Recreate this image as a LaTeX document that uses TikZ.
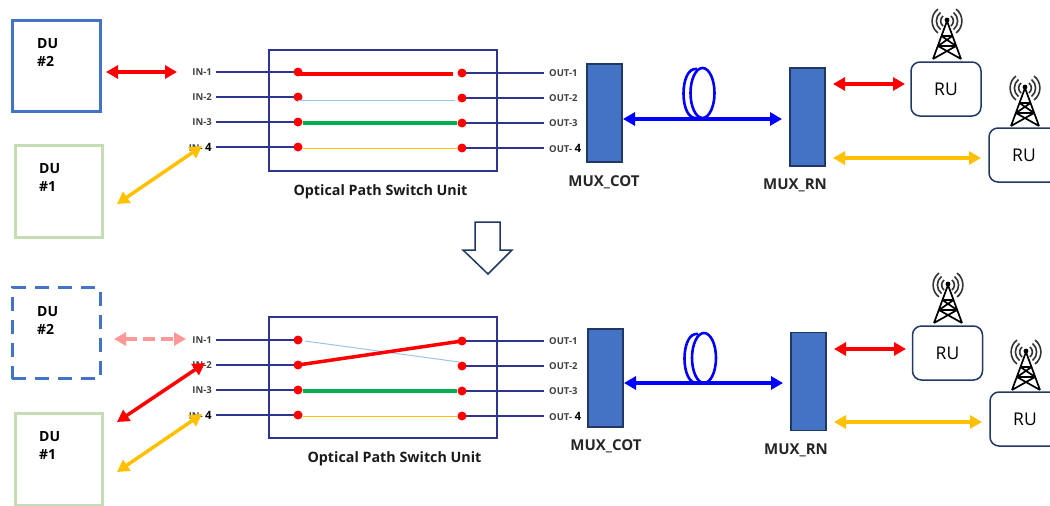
\documentclass[tikz,border=0pt]{standalone}
\usepackage{fontspec}
\setmainfont{Open Sans}
\usetikzlibrary{arrows.meta,backgrounds}
\definecolor{navy}{HTML}{2F3490}
\definecolor{duBlue}{HTML}{4472C4}
\definecolor{duGreen}{HTML}{C5DDB5}
\definecolor{muxEdge}{HTML}{1F3864}
\definecolor{amber}{HTML}{FFC000}
\definecolor{okGreen}{HTML}{00B050}
\definecolor{paleBlue}{HTML}{9DC3E6}
\definecolor{pink}{HTML}{FF9999}
\definecolor{labelGray}{HTML}{404040}
\newcommand{\bigfour}{{\color{black}\fontsize{11.5}{12}\selectfont 4}}
\tikzset{
  x=1pt,y=-1pt,
  dubox/.style={draw,line width=3pt,inner sep=0pt,minimum width=88pt,minimum height=91pt},
  dutext/.style={anchor=north west,inner sep=0pt,align=left,font=\fontsize{14}{18}\selectfont\bfseries},
  portin/.style={anchor=east,inner sep=0pt,text=labelGray,font=\fontsize{9.5}{12}\selectfont\bfseries},
  portout/.style={anchor=west,inner sep=0pt,text=labelGray,font=\fontsize{9.5}{12}\selectfont\bfseries},
  swunit/.style={draw=navy,line width=2pt,inner sep=0pt,minimum width=228pt,minimum height=121pt},
  dot/.style={circle,fill=red,inner sep=0pt,minimum size=9pt},
  feed/.style={draw=navy,line width=2.2pt},
  capt/.style={inner sep=0pt,text=black!90,font=\fontsize{14.3}{16}\selectfont\bfseries},
  muxcapt/.style={inner sep=0pt,text=black!85,font=\fontsize{15}{16}\selectfont\bfseries},
  mux/.style={draw=muxEdge,fill=duBlue,line width=1.5pt,inner sep=0pt,minimum width=35pt,minimum height=98pt},
  rubox/.style={draw=muxEdge,line width=1.5pt,rounded corners=9pt,inner sep=0pt,minimum width=70pt,minimum height=54pt,font=\fontsize{17.5}{20}\selectfont},
  biarrow/.style={{Triangle[length=12pt,width=13pt]}-{Triangle[length=12pt,width=13pt]},line width=3.5pt},
  coil/.style={draw=blue,line width=2.6pt},
  pics/mast/.style={code={
    \draw[line width=1.7pt,line join=round] (-14,38) -- (0,0) -- (14,38)
      (-5.5,15) -- (5.5,15) (-9,25) -- (9,25) (-14,38) -- (9,25) (14,38) -- (-9,25)
      (-5.5,15) -- (9,25) (5.5,15) -- (-9,25);
    \fill (0,-1) circle (2.4pt);
    \foreach \r/\h in {6/5,10/8.5,14/12}{
      \draw[line width=1.6pt,black!80] (-\r*0.65,-\h) .. controls (-\r*1.2,-\h*0.5) and (-\r*1.2,\h*0.5) .. (-\r*0.65,\h);
      \draw[line width=1.6pt,black!80] (\r*0.65,-\h) .. controls (\r*1.2,-\h*0.5) and (\r*1.2,\h*0.5) .. (\r*0.65,\h);
    }
  }}
}
\begin{document}
\begin{tikzpicture}
\useasboundingbox (0,0) rectangle (1050,506);
% ---------- top ----------
\node[dubox,draw=duBlue] (du2) at (56,65.5) {};
\node[dubox,draw=duGreen,minimum width=87pt,minimum height=92pt] (du1) at (58.5,191) {};
\node[dutext] (du2t) at (37,38.5) {DU\\\#2};
\node[dutext] (du1t) at (39,163.5) {DU\\\#1};
\node[swunit] (sw) at (383,110) {};
\foreach \n/\lab/\y in {1/IN-1/72,2/IN-2/97,3/IN-3/122,4/IN- \bigfour/147}{
  \node[portin] (i\n) at (212,\y) {\lab};
  \node[dot] (a\n) at (298,\y) {};
}
\foreach \n/\lab/\y in {1/OUT-1/73,2/OUT-2/98,3/OUT-3/123,4/OUT- \bigfour/148}{
  \node[dot] (b\n) at (462,\y) {};
  \node[portout] (o\n) at (549,\y) {\lab};
}
\begin{scope}[on background layer]
  \foreach \n in {1,2,3,4}{
    \draw[feed] (i\n.east)++(4,0) -- (a\n.center);
    \draw[feed] (b\n.center) -- ([xshift=-5pt]o\n.west);
  }
\end{scope}
\coordinate (c1) at ([xshift=-9pt,yshift=-1pt]b1.center);
\coordinate (c2) at ([xshift=-7pt,yshift=-2pt]b2.center);
\draw[red,line width=3.5pt] (a1.center |- c1) -- (c1);
\draw[paleBlue,line width=1pt] (a2.center |- c2) -- (c2);
\draw[okGreen,line width=3.5pt] (a3.east |- b3.center) -- (b3.west);
\draw[amber,line width=1pt] (a4.east |- b4.center) -- (b4.west);
\node[capt] (swt) at (380.5,191.5) {Optical Path Switch Unit};
\node[mux] (mc) at (604.5,113) {};
\node[mux] (mr) at (807.5,117) {};
\node[muxcapt] (mct) at (604,182) {MUX\_COT};
\node[muxcapt] (mrt) at (795,185) {MUX\_RN};
\node[rubox] (ru1) at (946,89) {RU};
\node[rubox] (ru2) at (1024,155) {RU};
\pic at (947,21) {mast};
\pic at (1025,88) {mast};
\coordinate (r1a) at (106,72); \coordinate (r1b) at (177,72);
\draw[biarrow,red] (r1a) -- (r1b);
\coordinate (y1a) at (117,204); \coordinate (y1b) at (202,146);
\draw[biarrow,amber] (y1a) -- (y1b);
\coordinate (fa) at (623,119); \coordinate (fb) at (782,119);
\draw[coil] (702.5,93) ellipse [x radius=12,y radius=25];
\draw[coil] (697,69) .. controls (679,66) and (679,121) .. (697,118);
\draw[biarrow,blue] (fa) -- (fb);
\coordinate (r2a) at (833,84); \coordinate (r2b) at (905,84);
\draw[biarrow,red] (r2a) -- (r2b);
\coordinate (y2a) at (833,158); \coordinate (y2b) at (981,158);
\draw[biarrow,amber] (y2a) -- (y2b);
% ---------- down arrow ----------
\draw[muxEdge,line width=1.5pt,line join=miter,fill=white] (475,222) -- (500,222) -- (500,250) -- (512,250) -- (488,274) -- (463,250) -- (475,250) -- cycle;
% ---------- bottom ----------
\node[dubox,draw=duBlue,dash pattern=on 14pt off 9pt] (Du2) at (56,333) {};
\node[dubox,draw=duGreen,minimum width=87pt,minimum height=92pt] (Du1) at (58.5,459) {};
\node[dutext] (Du2t) at (37,306.5) {DU\\\#2};
\node[dutext] (Du1t) at (39,431.5) {DU\\\#1};
\node[swunit] (Sw) at (383,377.5) {};
\foreach \n/\lab/\y in {1/IN-1/340,2/IN-2/365,3/IN-3/390,4/IN- \bigfour/415}{
  \node[portin] (I\n) at (212,\y) {\lab};
  \node[dot] (A\n) at (298,\y) {};
}
\foreach \n/\lab/\y in {1/OUT-1/341,2/OUT-2/366,3/OUT-3/391,4/OUT- \bigfour/416}{
  \node[dot] (B\n) at (462,\y) {};
  \node[portout] (O\n) at (549,\y) {\lab};
}
\begin{scope}[on background layer]
  \foreach \n in {1,2,3,4}{
    \draw[feed] (I\n.east)++(4,0) -- (A\n.center);
    \draw[feed] (B\n.center) -- ([xshift=-5pt]O\n.west);
  }
\end{scope}
\draw[paleBlue,line width=1pt] ([xshift=7pt,yshift=-1pt]A1.center) -- ([xshift=-3pt,yshift=4pt]B2.center);
\draw[red,line width=3.5pt] (A2.center) -- (B1.center);
\draw[okGreen,line width=3.5pt] (A3.east |- B3.center) -- (B3.west);
\draw[amber,line width=1pt] (A4.east |- B4.center) -- (B4.west);
\node[capt] (Swt) at (394.5,458.5) {Optical Path Switch Unit};
\node[mux] (Mc) at (605.5,378) {};
\node[mux] (Mr) at (808.5,381.5) {};
\node[muxcapt] (Mct) at (606,446) {MUX\_COT};
\node[muxcapt] (Mrt) at (796,450) {MUX\_RN};
\node[rubox] (Ru1) at (947.5,353) {RU};
\node[rubox] (Ru2) at (1025,419) {RU};
\pic at (948,285) {mast};
\pic at (1026,352) {mast};
\coordinate (R1a) at (114,339); \coordinate (R1b) at (186,339);
\draw[biarrow,pink,dash pattern=on 12pt off 6pt] (R1a) -- (R1b);
\coordinate (Ya) at (117,472); \coordinate (Yb) at (202,414);
\draw[biarrow,amber] (Ya) -- (Yb);
\coordinate (Ra) at (117,422); \coordinate (Rb) at (205,363);
\draw[biarrow,red] (Ra) -- (Rb);
\coordinate (Fa) at (624,383); \coordinate (Fb) at (783,383);
\draw[coil] (704,358) ellipse [x radius=12,y radius=25];
\draw[coil] (698,334) .. controls (680,331) and (680,386) .. (698,383);
\draw[biarrow,blue] (Fa) -- (Fb);
\coordinate (R2a) at (834,349); \coordinate (R2b) at (906,349);
\draw[biarrow,red] (R2a) -- (R2b);
\coordinate (Y2a) at (834,422); \coordinate (Y2b) at (982,422);
\draw[biarrow,amber] (Y2a) -- (Y2b);
\end{tikzpicture}
\end{document}
